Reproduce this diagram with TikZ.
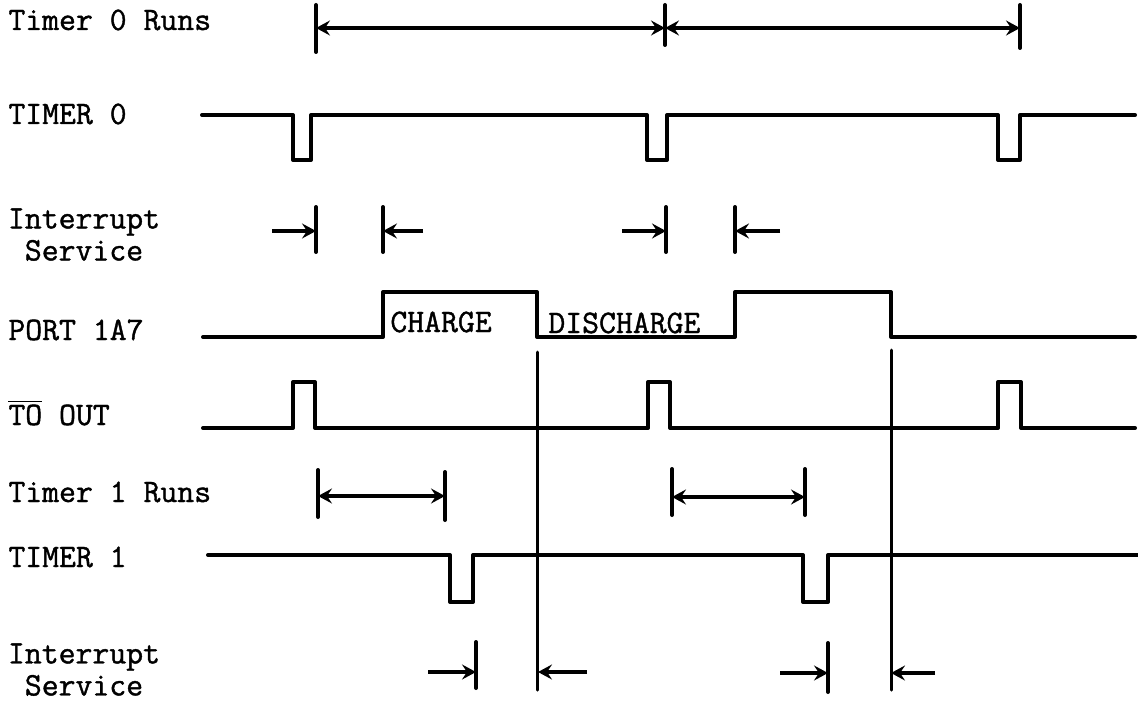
\documentclass[tikz,border=0pt]{standalone}
\usepackage{fontspec}
\usepackage{tikz}
\usetikzlibrary{arrows.meta}
\newfontfamily\typefont[FakeBold=1.2]{Latin Modern Mono}

\begin{document}
\begin{tikzpicture}[x=0.5pt, y=-0.5pt, lbl/.style={anchor=base west, inner sep=0pt, font=\typefont\fontsize{16.4}{16}\selectfont}, twolbl/.style={lbl, anchor=north, align=center}, sig/.style={line width=2pt, line join=round, line cap=round}, guide/.style={line width=1.5pt, line cap=round}, limit/.style={line width=2pt, line cap=round}, rel/.style={line width=2pt, -{Stealth[length=7pt, width=7.5pt, inset=2.5pt]}}, span/.style={line width=2pt, {Stealth[length=7pt, width=7.5pt, inset=2.5pt]}-{Stealth[length=7pt, width=7.5pt, inset=2.5pt]}}]
\useasboundingbox (0,0) rectangle (1138,700);
% row labels
\node[lbl] (t0runs) at (8,30) {Timer 0 Runs};
\node[lbl] (timer0) at (8,124) {TIMER 0};
\node[twolbl] (isr0) at (84,208) {Interrupt\\Service};
\node[lbl] (port) at (8,340) {PORT 1A7};
\node[lbl] (tout) at (8,425) {$\overline{\mbox{TO}}$ OUT};
\node[lbl] (t1runs) at (8,502) {Timer 1 Runs};
\node[lbl] (timer1) at (8,567) {TIMER 1};
\node[twolbl] (isr1) at (84,643) {Interrupt\\Service};
\node[lbl] (charge) at (390,332) {CHARGE};
\node[lbl] (discharge) at (548,333) {DISCHARGE};
% waveforms
\draw[sig] (202,115) -| (293,160) -| (311,115) -| (647,160) -| (667,115) -| (998,160) -| (1020,115) -- (1135,115);
\draw[sig] (203,337) -| (383,292) -| (537,337) -| (735,292) -| (891,337) -- (1135,337);
\draw[sig] (203,428) -| (293,382) -| (315,428) -| (648,382) -| (670,428) -| (998,382) -| (1021,428) -- (1135,428);
\draw[sig] (208,555) -| (450,602) -| (473,555) -| (803,602) -| (828,555) -- (1138,555);
\draw[guide] (537,352) -- (537,690);
\draw[guide] (891,350) -- (891,690);
% Timer 0 runs
\coordinate (r0a) at (316,28);
\coordinate (r0b) at (665,28);
\coordinate (r0c) at (1020,28);
\draw[limit] (316,5) -- (316,52);
\draw[limit] (665,5) -- (665,45);
\draw[limit] (1020,5) -- (1020,48);
\draw[span] (r0a) -- (r0b);
\draw[span] (r0b) -- (r0c);
% interrupt service, timer 0
\coordinate (s0a) at (316,231);
\coordinate (s0b) at (383,231);
\coordinate (s0c) at (666,231);
\coordinate (s0d) at (735,231);
\coordinate (s0ain) at (272,231);
\coordinate (s0bin) at (423,231);
\coordinate (s0cin) at (622,231);
\coordinate (s0din) at (780,231);
\draw[limit] (316,207) -- (316,252);
\draw[limit] (383,207) -- (383,252);
\draw[limit] (666,207) -- (666,252);
\draw[limit] (735,207) -- (735,252);
\draw[rel] (s0ain) -- (s0a);
\draw[rel] (s0bin) -- (s0b);
\draw[rel] (s0cin) -- (s0c);
\draw[rel] (s0din) -- (s0d);
% Timer 1 runs
\coordinate (r1a) at (318,496);
\coordinate (r1b) at (445,496);
\coordinate (r1c) at (672,497);
\coordinate (r1d) at (805,497);
\draw[limit] (318,470) -- (318,517);
\draw[limit] (445,472) -- (445,520);
\draw[limit] (672,469) -- (672,515);
\draw[limit] (805,469) -- (805,515);
\draw[span] (r1a) -- (r1b);
\draw[span] (r1c) -- (r1d);
% interrupt service, timer 1
\coordinate (s1a) at (476,672);
\coordinate (s1b) at (538,672);
\coordinate (s1c) at (828,673);
\coordinate (s1d) at (891,673);
\coordinate (s1ain) at (428,672);
\coordinate (s1bin) at (587,672);
\coordinate (s1cin) at (780,673);
\coordinate (s1din) at (935,673);
\draw[limit] (476,642) -- (476,688);
\draw[limit] (828,643) -- (828,692);
\draw[rel] (s1ain) -- (s1a);
\draw[rel] (s1bin) -- (s1b);
\draw[rel] (s1cin) -- (s1c);
\draw[rel] (s1din) -- (s1d);
\end{tikzpicture}
\end{document}
